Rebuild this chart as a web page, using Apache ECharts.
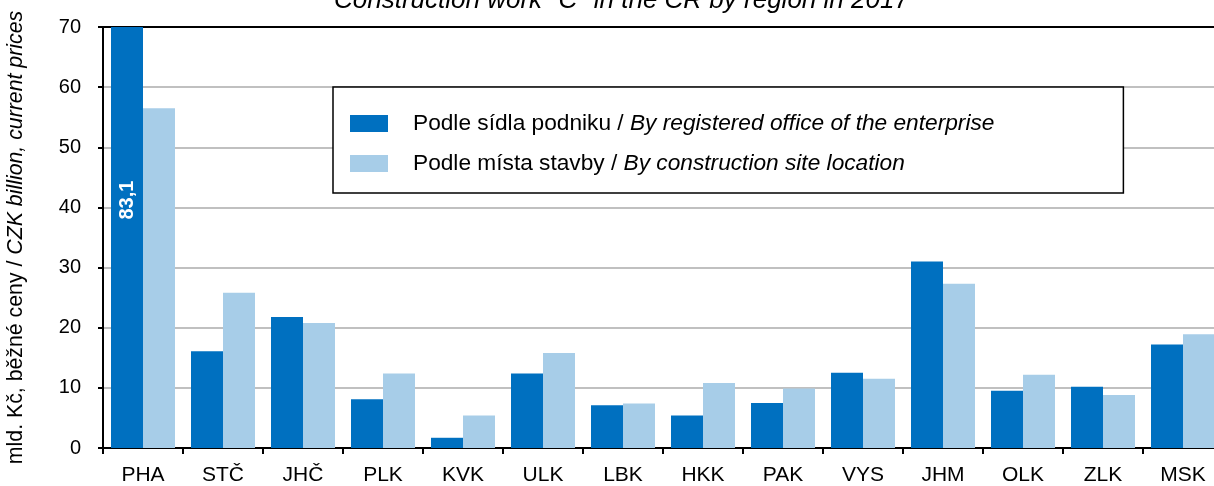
<!DOCTYPE html>
<html>
<head>
<meta charset="utf-8">
<script src="https://cdn.jsdelivr.net/npm/echarts@6/dist/echarts.min.js"></script>
<style>
  html, body { margin: 0; padding: 0; background: #fff; }
  #chart { width: 1214px; height: 486px; }
</style>
</head>
<body>
<div id="chart"></div>
<script>
// kraje (regiony)
const regions = ['PHA', 'STČ', 'JHČ', 'PLK', 'KVK', 'ULK', 'LBK', 'HKK', 'PAK', 'VYS', 'JHM', 'OLK', 'ZLK', 'MSK']
// podle sídla podniku (mld. Kč)
const byOffice = [83.1, 16.1, 21.8, 8.1, 1.7, 12.4, 7.1, 5.4, 7.5, 12.5, 31.0, 9.5, 10.2, 17.2]
// podle místa stavby (mld. Kč)
const bySite = [56.5, 25.8, 20.8, 12.4, 5.4, 15.8, 7.4, 10.8, 9.9, 11.5, 27.3, 12.2, 8.8, 18.9]

const yMin = 0
const yMax = 70
const yStep = 10

const font = 'Arial, "Liberation Sans", sans-serif'

const chart = echarts.init(document.getElementById('chart'))

// hodnoty mimo osu -> popisek uprostred (neorezaneho) sloupce
const overflowMarks = byOffice
  .map((v, i) => ({ v, i }))
  .filter(d => d.v > yMax)
  .map(d => ({ coord: [regions[d.i], d.v / 2], value: d.v }))

const option = {
  animation: false,
  textStyle: { fontFamily: font },
  title: {
    text: 'Construction work "C" in the CR by region in 2017',
    left: 329,
    top: -17,
    textStyle: { fontSize: 26, fontStyle: 'italic', fontWeight: 'normal', color: '#000', fontFamily: font }
  },
  legend: {
    orient: 'vertical',
    left: 333,
    top: 87,
    padding: [25, 129, 18, 17],
    itemGap: 17,
    itemWidth: 38,
    itemHeight: 17,
    borderColor: '#000',
    borderWidth: 1.5,
    borderRadius: 0,
    backgroundColor: '#fff',
    textStyle: {
      fontSize: 22,
      color: '#000',
      lineHeight: 20,
      rich: {
        a: { fontSize: 22.7, color: '#000', padding: [0, 0, 0, 20], fontFamily: font },
        b: { fontSize: 22.7, color: '#000', fontStyle: 'italic', fontFamily: font }
      }
    },
    formatter: (name) => {
      const parts = name.split(' / ')
      return '{a|' + parts[0] + ' / }{b|' + parts[1] + '}'
    },
    data: [
      { name: 'Podle sídla podniku / By registered office of the enterprise', icon: 'rect' },
      { name: 'Podle místa stavby / By construction site location', icon: 'rect' }
    ]
  },
  grid: { left: 103, right: -9, top: 27, bottom: 38, outerBoundsMode: 'none', containLabel: false },
  xAxis: [
    {
      type: 'category',
      data: regions,
      axisLine: { lineStyle: { color: '#000', width: 2 } },
      axisTick: { show: true, length: 6, lineStyle: { color: '#000', width: 2 } },
      axisLabel: { color: '#000', fontSize: 21, margin: 17, fontFamily: font }
    },
    {
      type: 'category',
      position: 'top',
      data: regions,
      axisLine: { lineStyle: { color: '#000', width: 2 } },
      axisTick: { show: false },
      axisLabel: { show: false }
    }
  ],
  yAxis: {
    type: 'value',
    min: yMin,
    max: yMax,
    interval: yStep,
    name: '{a|mld. Kč, běžné ceny / }{b|CZK billion, current prices}',
    nameLocation: 'middle',
    nameGap: 76,
    nameRotate: 90,
    nameTextStyle: {
      rich: {
        a: { fontSize: 21.3, color: '#000', fontFamily: font },
        b: { fontSize: 21.3, color: '#000', fontStyle: 'italic', fontFamily: font }
      }
    },
    axisLine: { show: true, lineStyle: { color: '#000', width: 2 } },
    axisTick: { show: true, length: 5, lineStyle: { color: '#000', width: 2 } },
    axisLabel: { color: '#000', fontSize: 20, margin: 22, fontFamily: font },
    splitLine: { lineStyle: { color: '#c0c0c0', width: 2 } }
  },
  series: [
    {
      name: 'Podle sídla podniku / By registered office of the enterprise',
      type: 'bar',
      data: byOffice,
      barWidth: 32,
      barGap: '0%',
      clip: true,
      itemStyle: { color: '#0070c0' },
      markPoint: {
        symbol: 'rect',
        symbolSize: 1,
        itemStyle: { color: 'rgba(0,0,0,0)' },
        label: {
          show: true,
          position: 'inside',
          rotate: 90,
          offset: [-2, 0],
          color: '#fff',
          fontWeight: 'bold',
          fontSize: 20,
          fontFamily: font,
          formatter: (p) => String(p.value).replace('.', ',')
        },
        data: overflowMarks
      }
    },
    {
      name: 'Podle místa stavby / By construction site location',
      type: 'bar',
      data: bySite,
      barWidth: 32,
      itemStyle: { color: '#a7cde8' }
    }
  ]
}

chart.setOption(option)
</script>
</body>
</html>
